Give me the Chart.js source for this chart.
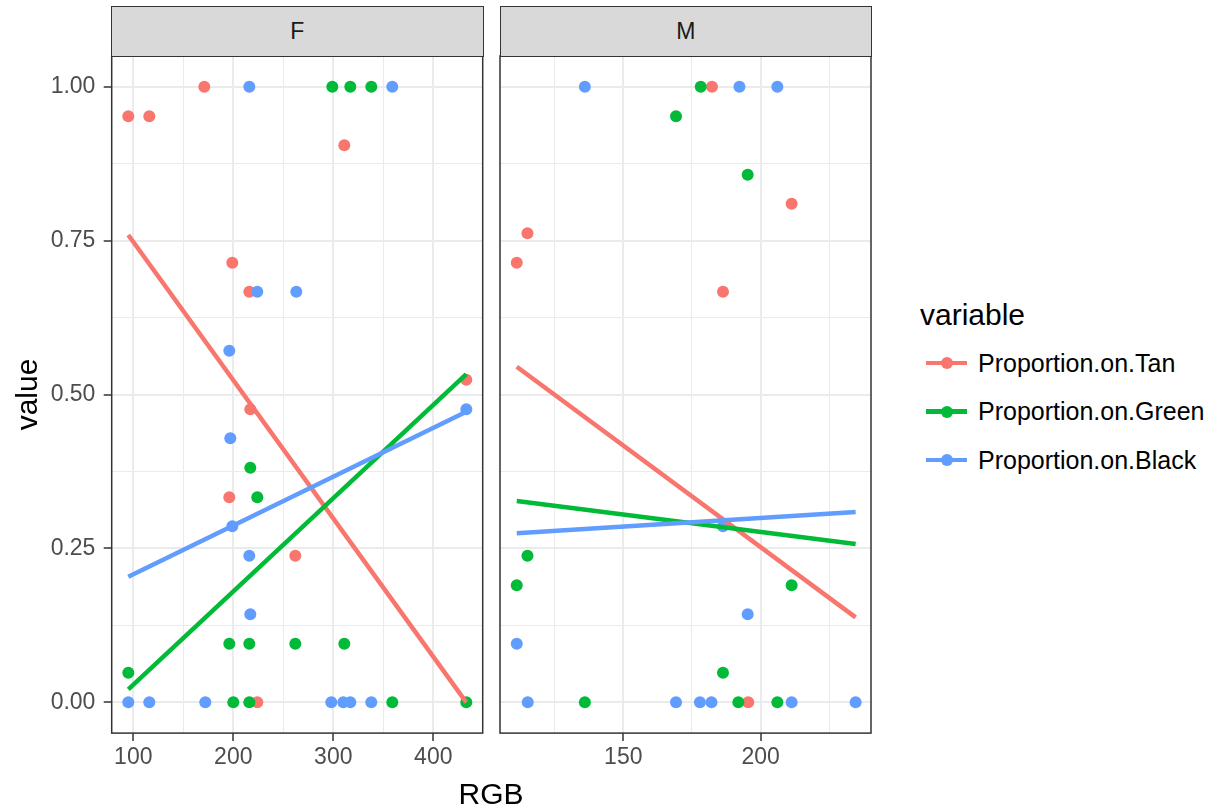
<!DOCTYPE html>
<html><head><meta charset="utf-8">
<script src="https://cdn.jsdelivr.net/npm/chart.js@4.4.1/dist/chart.umd.min.js"></script>
<style>
html,body{margin:0;padding:0;background:#fff;}
body{width:1217px;height:812px;position:relative;overflow:hidden;font-family:"Liberation Sans",Arial,sans-serif;}
canvas{position:absolute;top:0;}
.strip{position:absolute;top:5.5px;height:51px;background:#D9D9D9;border:1.5px solid #333;box-sizing:border-box;display:flex;align-items:center;justify-content:center;font-size:23px;color:#1A1A1A;}
#xtitle{position:absolute;left:391px;width:200px;top:777px;text-align:center;font-size:30px;line-height:34px;color:#000;}
#ltitle{position:absolute;left:920px;top:299.5px;font-size:30px;line-height:30px;color:#000;}
.item{position:absolute;left:926px;height:24px;display:flex;align-items:center;font-size:25px;color:#000;white-space:nowrap;}
.key{position:relative;width:41px;height:24px;margin-right:11px;}
.key .ln{position:absolute;left:0;right:0;top:9.75px;height:4.5px;}
.key .dt{position:absolute;left:14.5px;top:6px;width:12px;height:12px;border-radius:50%;}
</style></head>
<body>
<canvas id="cF" width="490" height="812" style="left:0"></canvas>
<canvas id="cM" width="390" height="812" style="left:490px"></canvas>
<div class="strip" style="left:111px;width:372.5px">F</div>
<div class="strip" style="left:499.5px;width:372.5px">M</div>
<div id="xtitle">RGB</div>
<div id="ltitle">variable</div>
<div id="legend"></div>
<script>
// ---- data ----
const panels = ["F", "M"];
const seriesNames = ["Proportion.on.Tan", "Proportion.on.Green", "Proportion.on.Black"];
const seriesColors = ["#F8766D", "#00BA38", "#619CFF"];

// Panel F points
const tanF_x   = [95, 116, 171, 199, 216, 217, 196, 311, 433, 262, 224];
const tanF_y   = [0.952, 0.952, 1, 0.714, 0.667, 0.476, 0.333, 0.905, 0.524, 0.238, 0];
const greenF_x = [95, 299, 317, 338, 196, 216, 262, 311, 217, 224, 200, 216, 359, 433];
const greenF_y = [0.048, 1, 1, 1, 0.095, 0.095, 0.095, 0.095, 0.381, 0.333, 0, 0, 0, 0];
const blackF_x = [216, 359, 224, 263, 196, 197, 199, 216, 217, 95, 116, 172, 298, 310, 317, 338, 433];
const blackF_y = [1, 1, 0.667, 0.667, 0.571, 0.429, 0.286, 0.238, 0.143, 0, 0, 0, 0, 0, 0, 0, 0.476];

// Panel M points
const tanM_x   = [111.2, 115.1, 182.3, 186.3, 211.3, 195.5];
const tanM_y   = [0.714, 0.762, 1, 0.667, 0.810, 0];
const greenM_x = [169.2, 178.2, 195.3, 111.2, 115.1, 211.3, 186.3, 136, 191.9, 206.1];
const greenM_y = [0.952, 1, 0.857, 0.190, 0.238, 0.190, 0.048, 0, 0, 0];
const blackM_x = [136, 192.3, 206.1, 195.3, 111.2, 186.3, 115.2, 169.2, 177.9, 182.1, 211.3, 234.6];
const blackM_y = [1, 1, 1, 0.143, 0.095, 0.286, 0, 0, 0, 0, 0, 0];

// Linear fit lines (end points at data x-range)
const fitF_x = [95, 433];
const fitTanF = [0.759, 0.0];
const fitGreenF = [0.021, 0.533];
const fitBlackF = [0.204, 0.472];
const fitM_x = [111.2, 234.6];
const fitTanM = [0.545, 0.138];
const fitGreenM = [0.327, 0.257];
const fitBlackM = [0.2745, 0.309];

// Axis ticks
const yTicks = [0, 0.25, 0.5, 0.75, 1];
const xTicksF = [100, 200, 300, 400];
const xTicksM = [150, 200];
const xRangeF = [78.4, 449.4];
const xRangeM = [105.1, 240.2];
const yRange = [-0.05, 1.05];

// ---- build ----
const zip = (xs, ys) => xs.map((x, i) => ({x, y: ys[i]}));
Chart.defaults.font.family = "'Liberation Sans', Arial, sans-serif";

function withMinor(major, min, max) {
  const step = major.length > 1 ? major[1] - major[0] : 0.25;
  const vals = [];
  for (let v = major[0] - step * 4; v <= max + 1e-9; v += step / 2) {
    if (v >= min - 1e-9) vals.push(+v.toFixed(6));
  }
  return vals;
}
const isMajor = (v, major) => major.some(m => Math.abs(m - v) < 1e-6);

function gridOpts(major) {
  return {
    color: '#EBEBEB',
    lineWidth: c => (c.tick && isMajor(c.tick.value, major)) ? 2 : 1,
    tickColor: c => (c.tick && isMajor(c.tick.value, major)) ? '#333333' : 'rgba(0,0,0,0)',
    tickWidth: 1.5,
    tickLength: 8,
    drawTicks: true
  };
}

function datasets(tx, ty, gx, gy, bx, by, fx, ft, fg, fb) {
  const pts = (d, c, o) => ({data: d, backgroundColor: c, borderColor: c, pointRadius: 6, pointBorderWidth: 0, pointHoverRadius: 6, showLine: false, order: o});
  const ln = (d, c, o) => ({data: d, borderColor: c, backgroundColor: c, borderWidth: 4.5, pointRadius: 0, showLine: true, order: o, fill: false});
  return [
    pts(zip(tx, ty), seriesColors[0], 6),
    pts(zip(gx, gy), seriesColors[1], 5),
    pts(zip(bx, by), seriesColors[2], 4),
    ln(zip(fx, ft), seriesColors[0], 3),
    ln(zip(fx, fg), seriesColors[1], 2),
    ln(zip(fx, fb), seriesColors[2], 1)
  ];
}

const frame = {
  id: 'frame',
  afterDraw(chart) {
    const {ctx, chartArea: a} = chart;
    ctx.save();
    ctx.strokeStyle = '#333333';
    ctx.lineWidth = 1.5;
    ctx.strokeRect(a.left, a.top, a.right - a.left, a.bottom - a.top);
    ctx.restore();
  }
};

function makeChart(id, ds, xMajor, xRange, showY, pad) {
  return new Chart(document.getElementById(id), {
    type: 'scatter',
    data: {datasets: ds},
    plugins: [frame],
    options: {
      responsive: false, animation: false, devicePixelRatio: 1,
      layout: {padding: pad},
      plugins: {legend: {display: false}, tooltip: {enabled: false}},
      scales: {
        x: {
          type: 'linear', min: xRange[0], max: xRange[1],
          afterBuildTicks: s => { s.ticks = withMinor(xMajor, xRange[0], xRange[1]).map(v => ({value: v})); },
          afterFit: s => { s.height = 78.9; },
          grid: gridOpts(xMajor),
          border: {display: false},
          ticks: {autoSkip: false, maxRotation: 0, padding: 3, color: '#4D4D4D', font: {size: 23},
                  callback: v => isMajor(v, xMajor) ? String(Math.round(v)) : ''}
        },
        y: {
          type: 'linear', min: yRange[0], max: yRange[1],
          afterBuildTicks: s => { s.ticks = withMinor(yTicks, yRange[0], yRange[1]).map(v => ({value: v})); },
          afterFit: s => { s.width = showY ? 111.7 : 10; },
          grid: showY ? gridOpts(yTicks) : Object.assign(gridOpts(yTicks), {drawTicks: false}),
          border: {display: false},
          title: showY ? {display: true, text: 'value', color: '#000', font: {size: 30}, padding: {top: 11, bottom: 0}} : {display: false},
          ticks: {display: showY, autoSkip: false, padding: 8.3, color: '#4D4D4D', font: {size: 23},
                  callback: v => isMajor(v, yTicks) ? v.toFixed(2) : ''}
        }
      }
    }
  });
}

makeChart('cF', datasets(tanF_x, tanF_y, greenF_x, greenF_y, blackF_x, blackF_y, fitF_x, fitTanF, fitGreenF, fitBlackF),
  xTicksF, xRangeF, true, {top: 55.9, right: 7.3, left: 0, bottom: 0});
makeChart('cM', datasets(tanM_x, tanM_y, greenM_x, greenM_y, blackM_x, blackM_y, fitM_x, fitTanM, fitGreenM, fitBlackM),
  xTicksM, xRangeM, false, {top: 55.9, right: 9, left: 0, bottom: 0});

// legend
const rows = [363, 411.5, 460];
const lg = document.getElementById('legend');
seriesNames.forEach((n, i) => {
  const d = document.createElement('div');
  d.className = 'item';
  d.style.top = (rows[i] - 12) + 'px';
  d.innerHTML = '<div class="key"><div class="ln" style="background:' + seriesColors[i] + '"></div><div class="dt" style="background:' + seriesColors[i] + '"></div></div><span>' + n + '</span>';
  lg.appendChild(d);
});
</script>
</body></html>
